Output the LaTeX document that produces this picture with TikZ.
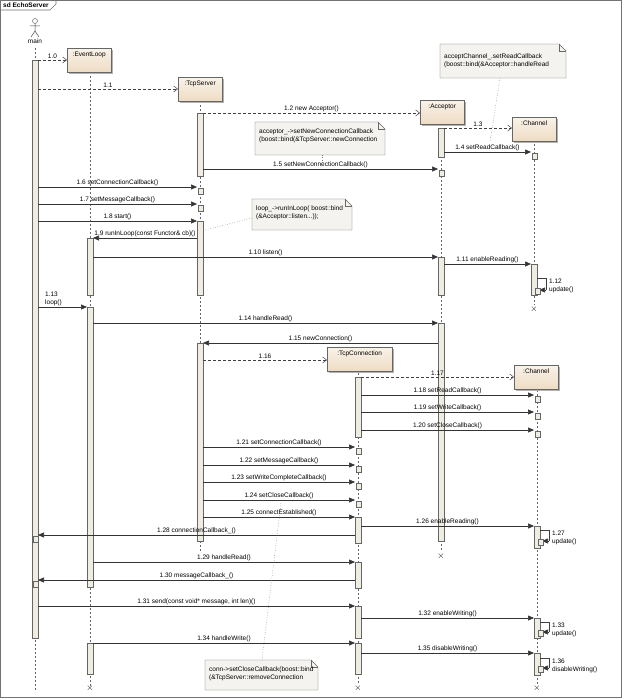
\documentclass[tikz,border=0pt]{standalone}
\usepackage{fontspec}
\setmainfont{Liberation Sans}
\usetikzlibrary{arrows.meta,shapes.misc}
\definecolor{boxfill}{HTML}{F3E6D2}
\definecolor{barfill}{HTML}{EFECE2}
\definecolor{notefill}{HTML}{F4F3F0}
\tikzset{
  lbl/.style={font=\fontsize{6.5}{7.5}\selectfont,inner sep=1pt},
  call/.style={draw=black!80,line width=0.55pt,-{Triangle[length=6pt,width=5pt]}},
  create/.style={draw=black!75,line width=0.5pt,dash pattern=on 3pt off 2pt,-{Straight Barb[length=4pt,width=6pt]}},
  lifeline/.style={draw=black!60,line width=0.5pt,dash pattern=on 2pt off 2pt},
  obj/.style={draw=black!60,top color=boxfill!50,bottom color=boxfill!90!brown,minimum width=44pt,minimum height=24pt,anchor=north west,inner sep=2pt},
  bar/.style={draw=black!60,fill=barfill,line width=0.4pt},
  note/.style={draw=black!60,fill=notefill,line width=0.4pt},
  notelink/.style={draw=black!55,line width=0.5pt,dotted},
}
\newcommand\msg[5]{\coordinate (#1a) at (#3,#2); \coordinate (#1b) at (#4,#2);
  \draw[call] (#1a) -- node[lbl,above,pos=0.5]{#5} (#1b);}
\newcommand\cmsg[5]{\coordinate (#1a) at (#3,#2); \coordinate (#1b) at (#4,#2);
  \draw[create] (#1a) -- node[lbl,above,pos=0.5]{#5} (#1b);}
\newcommand\actbar[3]{\filldraw[bar] (#1-3,#2) rectangle (#1+3,#3);}
\newcommand\tick[2]{\filldraw[bar] (#1-2,#2+1) rectangle (#1+3,#2+7);}
\newcommand\selfcall[6]{%
  \coordinate (#1a) at (#2+3,#3); \coordinate (#1c) at (#2+5,#4);
  \draw[black!75,line width=0.5pt] (#1a) -- ++(9,0) |- (#2+12,#4);
  \draw[call] (#2+12,#4) -- (#1c);
  \tick{#2+3}{#4-3}
  \node[lbl,anchor=north west,align=left] at (#2+14,#3) {#5\\#6};}
\newcommand\objbox[5]{%
  \fill[black!30] (#2+2,#3+2) rectangle (#2+#4+2,#3+26);
  \node[obj,minimum width=#4pt] (#1) at (#2,#3) {};
  \node[lbl,anchor=north] at (#1.north) [yshift=-3pt] {#5};}
\newcommand\destroy[2]{\node[lbl,font=\fontsize{9}{9}\selectfont] at (#1,#2) {$\times$};}
\begin{document}
\begin{tikzpicture}[x=1pt,y=-1pt]
\useasboundingbox (0,0) rectangle (623,700);
\fill[white] (0,0) rectangle (623,700);
\draw[black!55,line width=1pt] (0.5,0.5) rectangle (621,697);
\draw[black!55,line width=0.6pt] (0.5,10) -- (50,10) -- (56,4) -- (56,0.5);
\node[lbl,anchor=west,font=\bfseries\fontsize{6.5}{7.5}\selectfont] (title) at (2,5) {sd EchoServer};
\draw[lifeline] (35,48) -- (35,692);
\draw[lifeline] (90,76) -- (90,686);
\draw[lifeline] (200,101) -- (200,552);
\draw[lifeline] (441,124) -- (441,552);
\draw[lifeline] (534,140) -- (534,305);
\draw[lifeline] (358,373) -- (358,684);
\draw[lifeline] (537,390) -- (537,684);
\node[draw=black!70,circle,inner sep=0pt,minimum size=5pt] (actor) at (35,21) {};
\draw[black!70,line width=0.5pt] (actor.south) -- (35,31) (30,26) -- (40,26) (35,31) -- (31,37) (35,31) -- (39,37);
\node[lbl] (mainlbl) at (35,41) {main};
\objbox{eventloop}{67}{48}{44}{:EventLoop}
\objbox{tcpserver}{178}{77}{44}{:TcpServer}
\objbox{acceptor}{420}{100}{44}{:Acceptor}
\objbox{channel}{512}{117}{44}{:Channel}
\objbox{tcpconn}{327}{347}{65}{:TcpConnection}
\objbox{channel2}{514}{365}{44}{:Channel}
\actbar{35}{60}{638}
\actbar{90}{238}{295}
\actbar{90}{307}{587}
\actbar{90}{643}{674}
\actbar{200}{113}{176}
\actbar{200}{221}{295}
\actbar{200}{343}{541}
\actbar{441}{128}{157}
\actbar{441}{257}{295}
\actbar{441}{323}{541}
\actbar{534}{264}{295}
\actbar{358}{377}{437}
\actbar{358}{517}{543}
\actbar{358}{562}{588}
\actbar{358}{606}{638}
\actbar{358}{643}{674}
\actbar{537}{526}{548}
\actbar{537}{618}{638}
\actbar{537}{653}{675}
\cmsg{m0}{60}{38}{67}{1.0}
\cmsg{m1}{89}{38}{178}{1.1}
\cmsg{m2}{113}{203}{420}{1.2 new Acceptor()}
\cmsg{m3}{128}{444}{512}{1.3}
\msg{m4}{152}{444}{531}{1.4 setReadCallback()} \tick{534}{152}
\msg{m5}{169}{203}{438}{1.5 setNewConnectionCallback()} \tick{441}{169}
\msg{m6}{187}{38}{197}{1.6 setConnectionCallback()} \tick{200}{187}
\msg{m7}{204}{38}{197}{1.7 setMessageCallback()} \tick{200}{204}
\msg{m8}{221}{38}{197}{1.8 start()}
\msg{m9}{238}{197}{93}{1.9 runInLoop(const Functor\& cb)()}
\msg{m10}{257}{93}{438}{1.10 listen()}
\msg{m11}{264}{444}{531}{1.11 enableReading()}
\selfcall{s12}{534}{278}{290}{1.12}{update()}
\coordinate (m13a) at (38,307); \coordinate (m13b) at (87,307);
\draw[call] (m13a) -- (m13b);
\node[lbl,anchor=south west,align=left] at (44,307) {1.13\\loop()};
\msg{m14}{323}{93}{438}{1.14 handleRead()}
\msg{m15}{343}{438}{203}{1.15 newConnection()}
\cmsg{m16}{360}{203}{327}{1.16}
\cmsg{m17}{377}{361}{514}{1.17}
\msg{m18}{395}{361}{534}{1.18 setReadCallback()} \tick{537}{395}
\msg{m19}{412}{361}{534}{1.19 setWriteCallback()} \tick{537}{412}
\msg{m20}{430}{361}{534}{1.20 setCloseCallback()} \tick{537}{430}
\msg{m21}{447}{203}{355}{1.21 setConnectionCallback()} \tick{358}{447}
\msg{m22}{465}{203}{355}{1.22 setMessageCallback()} \tick{358}{465}
\msg{m23}{482}{203}{355}{1.23 setWriteCompleteCallback()} \tick{358}{482}
\msg{m24}{500}{203}{355}{1.24 setCloseCallback()} \tick{358}{500}
\msg{m25}{517}{203}{355}{1.25 connectEstablished()}
\msg{m26}{526}{361}{534}{1.26 enableReading()}
\selfcall{s27}{537}{530}{541}{1.27}{update()}
\msg{m28}{535}{355}{38}{1.28 connectionCallback\_()} \tick{35}{535}
\msg{m29}{562}{93}{355}{1.29 handleRead()}
\msg{m30}{580}{355}{38}{1.30 messageCallback\_()} \tick{35}{580}
\msg{m31}{606}{38}{355}{1.31 send(const void* message, int len)()}
\msg{m32}{618}{361}{534}{1.32 enableWriting()}
\selfcall{s33}{537}{622}{632}{1.33}{update()}
\msg{m34}{643}{93}{355}{1.34 handleWrite()}
\msg{m35}{653}{361}{534}{1.35 disableWriting()}
\selfcall{s36}{537}{658}{668}{1.36}{disableWriting()}
\destroy{534}{309}
\destroy{441}{556}
\destroy{90}{688}
\destroy{358}{688}
\destroy{537}{688}
\newcommand\notebox[5]{%
  \filldraw[note] (#2,#3) -- (#4-7,#3) -- (#4,#3+7) -- (#4,#5) -- (#2,#5) -- cycle;
  \draw[black!60,line width=0.4pt] (#4-7,#3) -- (#4-7,#3+7) -- (#4,#3+7);
  \coordinate (#1) at ({(#2+#4)/2},#5);}
\notebox{n1}{440}{44}{566}{78}
\node[lbl,anchor=north west,align=left] at (443,53) {acceptChannel\_.setReadCallback\\(boost::bind(\&Acceptor::handleRead};
\coordinate (n1e) at (490,142); \draw[notelink] (500,78) -- (n1e);
\notebox{n2}{255}{122}{385}{155}
\node[lbl,anchor=north west,align=left] at (258,128) {acceptor\_->setNewConnectionCallback\\(boost::bind(\&TcpServer::newConnection};
\coordinate (n2e) at (322,163); \draw[notelink] (322,155) -- (n2e);
\notebox{n3}{252}{199}{352}{230}
\node[lbl,anchor=north west,align=left] at (255,205) {loop\_->runInLoop( boost::bind\\(\&Acceptor::listen...));};
\coordinate (n3e) at (205,230); \draw[notelink] (252,218) -- (n3e);
\notebox{n4}{205}{660}{318}{690}
\node[lbl,anchor=north west,align=left] at (208,666) {conn->setCloseCallback(boost::bind\\(\&TcpServer::removeConnection};
\coordinate (n4e) at (281,503); \draw[notelink] (262,660) -- (n4e);
\end{tikzpicture}
\end{document}
